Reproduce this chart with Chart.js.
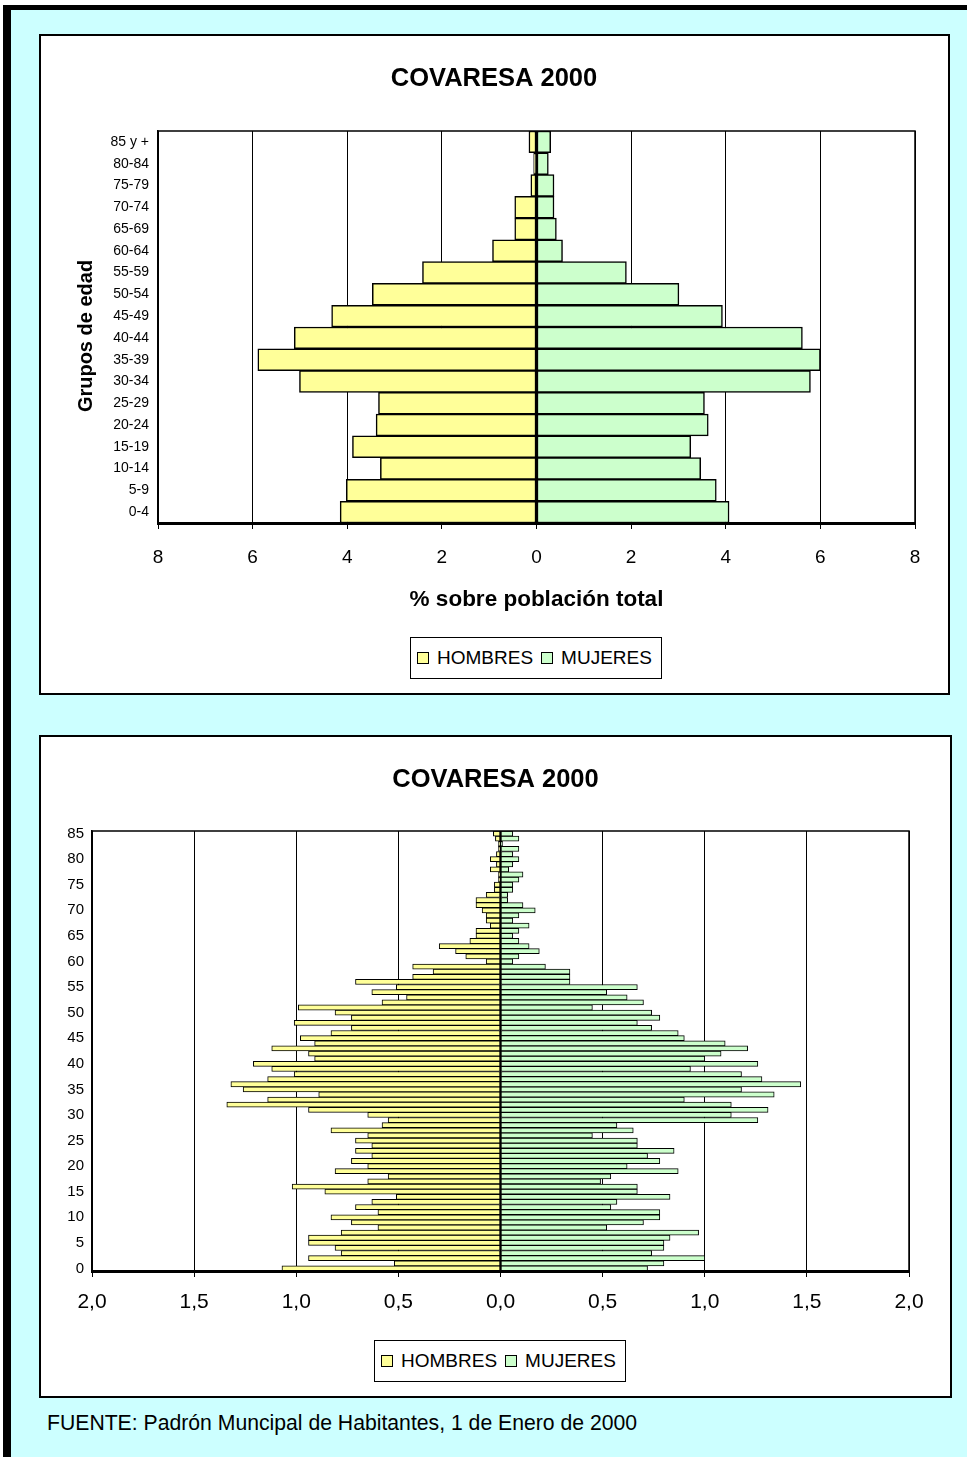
<!DOCTYPE html>
<html lang="es">
<head>
<meta charset="utf-8">
<title>COVARESA 2000</title>
<script src="https://cdn.jsdelivr.net/npm/chart.js@4.4.1/dist/chart.umd.min.js"></script>
<style>
  html, body { margin: 0; padding: 0; background: #fff; overflow: hidden; }
  body { width: 967px; height: 1457px; position: relative; font-family: "Liberation Sans", Arial, sans-serif; }
  #marco { position: absolute; left: 3px; top: 5px; width: 1000px; height: 1500px;
           border-left: 8px solid #000; border-top: 5px solid #000; background: #ccffff; }
  .panel { position: absolute; background: #fff; border: 2px solid #000; box-sizing: border-box; }
  .panel canvas { position: absolute; left: 0; top: 0; }
  .leyenda { position: absolute; box-sizing: border-box; width: 252px; height: 42px;
             border: 1px solid #000; background: #fff; display: flex; align-items: center;
             padding-left: 6px; font-size: 19px; color: #000; white-space: nowrap; }
  .leyenda .cuadro { width: 12px; height: 12px; box-sizing: border-box; border: 1px solid #000;
                     margin-right: 8px; flex: none; }
  .leyenda .texto { margin-right: 8px; }
  #fuente { position: absolute; left: 47px; top: 1411px; font-size: 21.2px; line-height: 24px; color: #000; }
</style>
</head>
<body>
<div id="marco"></div>

<div class="panel" style="left:39px; top:34px; width:911px; height:661px;">
  <canvas id="grafQuinq" width="906" height="656"></canvas>
  <div class="leyenda" id="leyQuinq" style="left:369px; top:601px;"></div>
</div>

<div class="panel" style="left:39px; top:735px; width:913px; height:663px;">
  <canvas id="grafEdad" width="909" height="659"></canvas>
  <div class="leyenda" id="leyEdad" style="left:333px; top:603px;"></div>
</div>

<div id="fuente">FUENTE: Padrón Muncipal de Habitantes, 1 de Enero de 2000</div>

<script>
// Grupos quinquenales de edad (de abajo arriba en la pirámide)
const gruposEdad = ['0-4', '5-9', '10-14', '15-19', '20-24', '25-29', '30-34', '35-39', '40-44',
                    '45-49', '50-54', '55-59', '60-64', '65-69', '70-74', '75-79', '80-84', '85 y +'];
// % sobre población total por grupo
const hombresGrupos = [4.15, 4.02, 3.30, 3.89, 3.39, 3.34, 5.01, 5.89, 5.12,
                       4.33, 3.47, 2.41, 0.93, 0.46, 0.46, 0.12, 0.06, 0.16];
const mujeresGrupos = [4.07, 3.80, 3.47, 3.26, 3.63, 3.55, 5.79, 6.00, 5.62,
                       3.93, 3.01, 1.90, 0.55, 0.42, 0.37, 0.37, 0.25, 0.30];

// Edades simples 0..85
const edades = ['0','1','2','3','4','5','6','7','8','9','10','11','12','13','14','15','16','17','18','19',
                '20','21','22','23','24','25','26','27','28','29','30','31','32','33','34','35','36','37','38','39',
                '40','41','42','43','44','45','46','47','48','49','50','51','52','53','54','55','56','57','58','59',
                '60','61','62','63','64','65','66','67','68','69','70','71','72','73','74','75','76','77','78','79',
                '80','81','82','83','84','85'];
const hombresEdad = [1.07, 0.52, 0.94, 0.78, 0.81, 0.94, 0.94, 0.78, 0.60, 0.73,
                     0.83, 0.60, 0.71, 0.63, 0.51, 0.86, 1.02, 0.65, 0.55, 0.81,
                     0.65, 0.73, 0.63, 0.71, 0.63, 0.71, 0.65, 0.83, 0.58, 0.55,
                     0.65, 0.94, 1.34, 1.14, 0.89, 1.26, 1.32, 1.14, 1.01, 1.12,
                     1.21, 0.91, 0.94, 1.12, 0.91, 0.98, 0.83, 0.73, 1.01, 0.73,
                     0.81, 0.99, 0.58, 0.46, 0.63, 0.51, 0.71, 0.43, 0.33, 0.43,
                     0.07, 0.17, 0.22, 0.30, 0.15, 0.12, 0.12, 0.05, 0.07, 0.07,
                     0.09, 0.12, 0.12, 0.07, 0.03, 0.03, 0.01, 0.01, 0.05, 0.02,
                     0.05, 0.02, 0.01, 0.01, 0.025, 0.035];
const mujeresEdad = [0.72, 0.80, 1.00, 0.74, 0.80, 0.80, 0.83, 0.97, 0.52, 0.70,
                     0.78, 0.78, 0.54, 0.57, 0.83, 0.67, 0.67, 0.49, 0.54, 0.87,
                     0.62, 0.78, 0.72, 0.85, 0.67, 0.67, 0.45, 0.65, 0.57, 1.26,
                     1.13, 1.31, 1.13, 0.90, 1.34, 1.18, 1.47, 1.28, 1.18, 0.93,
                     1.26, 1.00, 1.08, 1.21, 1.10, 0.90, 0.87, 0.74, 0.67, 0.78,
                     0.74, 0.45, 0.70, 0.62, 0.52, 0.67, 0.34, 0.34, 0.34, 0.22,
                     0.06, 0.09, 0.19, 0.14, 0.09, 0.06, 0.09, 0.14, 0.06, 0.09,
                     0.17, 0.11, 0.035, 0.035, 0.06, 0.06, 0.09, 0.11, 0.04, 0.06,
                     0.09, 0.06, 0.09, 0.01, 0.09, 0.06];

// Rótulos del eje horizontal (valores absolutos a ambos lados del cero)
const ticksQuinq = ['8', '6', '4', '2', '0', '2', '4', '6', '8'];
const ticksEdad = ['2,0', '1,5', '1,0', '0,5', '0,0', '0,5', '1,0', '1,5', '2,0'];

const COLOR_HOMBRES = '#FFFF99';
const COLOR_MUJERES = '#CCFFCC';
const FAMILIA = '"Liberation Sans", Arial, sans-serif';

Chart.defaults.font.family = FAMILIA;
Chart.defaults.color = '#000';

// Recuadro negro del área de trazado, con la línea inferior más gruesa
const recuadroArea = {
  id: 'recuadroArea',
  afterDatasetsDraw(chart, args, opts) {
    const { ctx, chartArea: a } = chart;
    ctx.save();
    ctx.strokeStyle = '#000';
    ctx.lineWidth = opts.ancho || 1.5;
    ctx.strokeRect(a.left, a.top, a.right - a.left, a.bottom - a.top);
    ctx.lineWidth = 3;
    ctx.beginPath();
    ctx.moveTo(a.left - 1, a.bottom + 0.5);
    ctx.lineTo(a.right + 1, a.bottom + 0.5);
    ctx.stroke();
    ctx.restore();
  }
};

// Título del gráfico, centrado en el recuadro, y título vertical del eje de edades
const titulos = {
  id: 'titulos',
  afterDraw(chart, args, opts) {
    const { ctx, chartArea: a } = chart;
    ctx.save();
    ctx.fillStyle = '#000';
    ctx.textAlign = 'center';
    ctx.textBaseline = 'middle';
    if (opts.principal) {
      ctx.font = 'bold 25.5px ' + FAMILIA;
      ctx.fillText(opts.principal, chart.width / 2, opts.yPrincipal);
    }
    if (opts.ejeY) {
      ctx.translate(opts.xEjeY, (a.top + a.bottom) / 2 + opts.dyEjeY);
      ctx.rotate(-Math.PI / 2);
      ctx.font = 'bold 20px ' + FAMILIA;
      ctx.fillText(opts.ejeY, 0, 0);
    }
    ctx.restore();
  }
};

function serie(etiqueta, valores, color, signo, grosor) {
  return {
    label: etiqueta,
    data: valores.map(v => signo * v),
    backgroundColor: color,
    borderColor: '#000',
    borderWidth: grosor,
    borderSkipped: false,
    barPercentage: 1,
    categoryPercentage: 1
  };
}

function piramide(id, cfg) {
  return new Chart(document.getElementById(id), {
    type: 'bar',
    data: {
      labels: cfg.etiquetas,
      datasets: [
        serie('HOMBRES', cfg.hombres, COLOR_HOMBRES, -1, cfg.grosor),
        serie('MUJERES', cfg.mujeres, COLOR_MUJERES, 1, cfg.grosor)
      ]
    },
    options: {
      indexAxis: 'y',
      responsive: false,
      animation: false,
      devicePixelRatio: 1,
      layout: { padding: cfg.padding },
      plugins: {
        legend: { display: false },
        tooltip: { enabled: false },
        title: { display: false },
        recuadroArea: { ancho: 1.5 },
        titulos: cfg.titulos
      },
      scales: {
        x: {
          type: 'linear',
          stacked: true,
          min: -cfg.max,
          max: cfg.max,
          ticks: {
            stepSize: cfg.paso,
            color: '#000',
            font: { size: cfg.fuenteX, family: FAMILIA },
            padding: cfg.padX,
            maxRotation: 0,
            callback: (v, i) => cfg.ticks[i]
          },
          grid: { color: '#000', lineWidth: 1, drawTicks: true, tickLength: 6, tickColor: '#000' },
          border: { display: true, color: '#000', width: 3 },
          title: cfg.tituloX ? {
            display: true,
            text: cfg.tituloX,
            color: '#000',
            font: { size: 22.5, weight: 'bold', family: FAMILIA },
            padding: { top: 0, bottom: 10 }
          } : { display: false },
          afterFit(s) { s.height = cfg.altoX; }
        },
        y: {
          type: 'category',
          stacked: true,
          reverse: true,
          grid: { display: false, drawTicks: false },
          border: { display: true, color: '#000', width: 1.5 },
          ticks: {
            color: '#000',
            autoSkip: false,
            padding: cfg.padY,
            font: { size: cfg.fuenteY, family: FAMILIA },
            callback: (v, i) => (i % cfg.cadaY === 0 ? cfg.etiquetas[i] : '')
          },
          afterFit(s) { s.width = cfg.anchoY; }
        }
      }
    },
    plugins: [recuadroArea, titulos]
  });
}

// Leyenda HTML construida a partir de las series del gráfico
function leyenda(chart, id) {
  const caja = document.getElementById(id);
  chart.data.datasets.forEach(ds => {
    const c = document.createElement('span');
    c.className = 'cuadro';
    c.style.background = ds.backgroundColor;
    const t = document.createElement('span');
    t.className = 'texto';
    t.textContent = ds.label;
    caja.appendChild(c);
    caja.appendChild(t);
  });
}

const graf1 = piramide('grafQuinq', {
  etiquetas: gruposEdad, hombres: hombresGrupos, mujeres: mujeresGrupos,
  max: 8, paso: 2, ticks: ticksQuinq, grosor: 1.5,
  padding: { left: 0, right: 32, top: 95, bottom: 69 },
  fuenteX: 19, padX: 17, altoX: 100, tituloX: '% sobre población total',
  fuenteY: 14, padY: 9, anchoY: 117, cadaY: 1,
  titulos: { principal: 'COVARESA 2000', yPrincipal: 43,
             ejeY: 'Grupos de edad', xEjeY: 45, dyEjeY: 9 }
});
leyenda(graf1, 'leyQuinq');

const graf2 = piramide('grafEdad', {
  etiquetas: edades, hombres: hombresEdad, mujeres: mujeresEdad,
  max: 2, paso: 0.5, ticks: ticksEdad, grosor: 1,
  padding: { left: 0, right: 41, top: 94, bottom: 65 },
  fuenteX: 21, padX: 13, altoX: 60, tituloX: null,
  fuenteY: 15, padY: 8, anchoY: 51, cadaY: 5,
  titulos: { principal: 'COVARESA 2000', yPrincipal: 43 }
});
leyenda(graf2, 'leyEdad');
</script>
</body>
</html>
